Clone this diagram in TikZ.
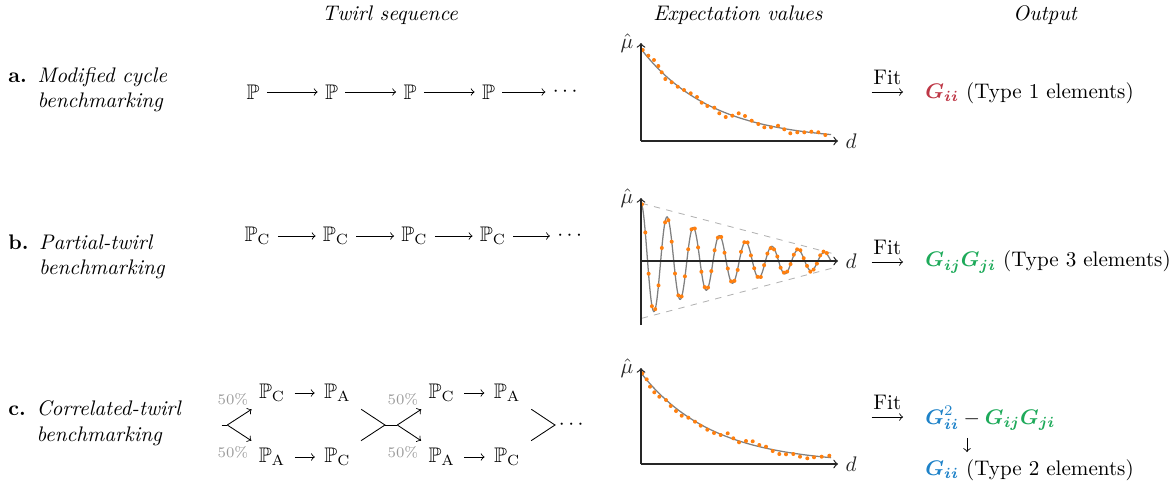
\documentclass[tikz,border=0pt]{standalone}
\usepackage{amsmath}
\usepackage{amssymb}
\usepackage{tikz}
\usetikzlibrary{arrows, positioning}
\definecolor{dotorange}{RGB}{255,127,14}
\definecolor{typeone}{RGB}{190,55,70}
\definecolor{typetwo}{RGB}{30,130,200}
\definecolor{typethree}{RGB}{30,170,90}
\tikzstyle{hdr} = [font=\itshape]
\tikzstyle{rowlbl} = [anchor=west, align=left]
\tikzstyle{line} = [draw, ->]
\tikzstyle{axis} = [draw, ->, semithick, black!85]
\tikzstyle{fitcurve} = [draw, gray, semithick]
\tikzstyle{envelope} = [draw, dashed, black!30]
\tikzstyle{dot} = [fill=dotorange]
\tikzstyle{pct} = [font=\scriptsize, black!40]
\tikzstyle{outtxt} = [anchor=west]

\begin{document}
\begin{tikzpicture}[x=0.474pt, y=0.474pt, node distance=37.2pt]
        \useasboundingbox (0,0) rectangle (1173,487);

        % Encabezados
        \node [hdr] (hTwirl) at (390,472) {Twirl sequence};
        \node [hdr] (hExp) at (738,472) {Expectation values};
        \node [hdr] (hOut) at (1045,472) {Output};

        % Filas
        \node [rowlbl] (lblA) at (1,397) {\begin{tabular}{@{}l@{\hspace{5pt}}l@{}}\textbf{a.} & \textit{Modified cycle}\\ & \textit{benchmarking}\end{tabular}};
        \node [rowlbl] (lblB) at (1,230) {\begin{tabular}{@{}l@{\hspace{5pt}}l@{}}\textbf{b.} & \textit{Partial-twirl}\\ & \textit{benchmarking}\end{tabular}};
        \node [rowlbl] (lblC) at (1,63.5) {\begin{tabular}{@{}l@{\hspace{5pt}}l@{}}\textbf{c.} & \textit{Correlated-twirl}\\ & \textit{benchmarking}\end{tabular}};

        % Secuencia a
        \node (pa1) at (253,395) {$\mathbb{P}$};
        \node [right of=pa1] (pa2) {$\mathbb{P}$};
        \node [right of=pa2] (pa3) {$\mathbb{P}$};
        \node [right of=pa3] (pa4) {$\mathbb{P}$};
        \node [right of=pa4] (pa5) {$\cdots$};
        \path [line] (pa1) -- (pa2);
        \path [line] (pa2) -- (pa3);
        \path [line] (pa3) -- (pa4);
        \path [line] (pa4) -- (pa5);

        % Secuencia b
        \node (pb1) at (257.5,251) {$\mathbb{P}_{\mathrm{C}}$};
        \node [right of=pb1] (pb2) {$\mathbb{P}_{\mathrm{C}}$};
        \node [right of=pb2] (pb3) {$\mathbb{P}_{\mathrm{C}}$};
        \node [right of=pb3] (pb4) {$\mathbb{P}_{\mathrm{C}}$};
        \node [right of=pb4] (pb5) {$\cdots$};
        \path [line] (pb1) -- (pb2);
        \path [line] (pb2) -- (pb3);
        \path [line] (pb3) -- (pb4);
        \path [line] (pb4) -- (pb5);

        % Secuencia c
        \node (cT1) at (272,94) {$\mathbb{P}_{\mathrm{C}}$};
        \node [right of=cT1, node distance=31pt] (cT2) {$\mathbb{P}_{\mathrm{A}}$};
        \node (cB1) at (272,30) {$\mathbb{P}_{\mathrm{A}}$};
        \node [right of=cB1, node distance=31pt] (cB2) {$\mathbb{P}_{\mathrm{C}}$};
        \node (cT3) at (441.7,94) {$\mathbb{P}_{\mathrm{C}}$};
        \node [right of=cT3, node distance=31pt] (cT4) {$\mathbb{P}_{\mathrm{A}}$};
        \node (cB3) at (441.7,30) {$\mathbb{P}_{\mathrm{A}}$};
        \node [right of=cB3, node distance=31pt] (cB4) {$\mathbb{P}_{\mathrm{C}}$};
        \node (cEnd) at (573,62) {$\cdots$};
        \node [pct] (pctT1) at (233,88) {50\%};
        \node [pct] (pctB1) at (233,35) {50\%};
        \node [pct] (pctT2) at (403,88) {50\%};
        \node [pct] (pctB2) at (403,35) {50\%};
        \coordinate (s1) at (221.7,62);
        \coordinate (j1) at (227.3,62);
        \coordinate (m1) at (385,62);
        \coordinate (j2) at (397.3,62);
        \coordinate (m2) at (555,62);
        \draw (s1) -- (j1);
        \path [line] (j1) -- (cT1.south west);
        \path [line] (j1) -- (cB1.north west);
        \path [line, shorten <=1pt, shorten >=1pt] (cT1) -- (cT2);
        \path [line, shorten <=1pt, shorten >=1pt] (cB1) -- (cB2);
        \draw ([xshift=1.5pt]cT2.south east) -- (m1) -- ([xshift=1.5pt]cB2.north east);
        \draw (m1) -- (j2);
        \path [line] (j2) -- (cT3.south west);
        \path [line] (j2) -- (cB3.north west);
        \path [line, shorten <=1pt, shorten >=1pt] (cT3) -- (cT4);
        \path [line, shorten <=1pt, shorten >=1pt] (cB3) -- (cB4);
        \draw ([xshift=1.7pt]cT4.south east) -- (m2) -- ([xshift=1.7pt]cB4.north east);

        % Grafica a
        \begin{scope}[shift={(641,346)}]
            \path [fitcurve] plot[domain=0:190, samples=120] (\x, {92*exp(-0.014*\x)});
            \foreach \t/\h in {1.7/91, 7.3/85.3, 13/81, 17.3/75, 20.7/68.7, 24.3/62, 30.7/58.7, 36.7/54.3, 43/51, 49.7/47.7, 56/44, 60.7/38.3, 66.3/35, 73.3/33.3, 78.3/27.7, 84.7/24, 91.3/25.3, 97.7/27.7, 104/25, 110.7/20.3, 117.3/17, 123.3/13.7, 130/13.7, 137/15.3, 143.3/11.7, 149.3/7.7, 156.3/8.7, 163.3/8.7, 170.3/9.3, 177.3/8.7, 184.3/6}
                \fill [dot] (\t,\h) circle (2);
            \path [axis] (0,0) -- (0,98) node [left] (muA) {$\hat{\mu}$};
            \path [axis] (0,0) -- (197,0) node [right] (dA) {$d$};
        \end{scope}

        % Grafica b
        \begin{scope}[shift={(641,226)}]
            \path [envelope] (0.7,57.7) -- (190.7,7.7);
            \path [envelope] (0.7,-57.3) -- (190.7,-7.3);
            \path [fitcurve] plot[domain=0:190, samples=300] (\x, {58*exp(-0.0105*\x)*cos(13.74*\x)});
            \pgfmathsetseed{11}
            \foreach \t in {1,4.3,...,188} {
                \pgfmathsetmacro\h{58*exp(-0.0105*\t)*cos(13.74*\t)+1.5*rand}
                \fill [dot] (\t,\h) circle (2);
            }
            \path [axis] (0,-64) -- (0,63) node [left] (muB) {$\hat{\mu}$};
            \path [axis] (0,0) -- (197,0) node [right] (dB) {$d$};
        \end{scope}

        % Grafica c
        \begin{scope}[shift={(641,23)}]
            \path [fitcurve] plot[domain=0:190, samples=120] (\x, {91*exp(-0.014*\x)});
            \foreach \t/\h in {1.3/90.7, 5.7/84.7, 9/77.3, 13.3/71.7, 18.3/67.3, 25/64, 29.7/58, 35/53, 40.7/48.3, 47.3/46.3, 54/42.3, 59.7/38.3, 66.3/34.3, 73/31, 79.7/29, 86.7/30.7, 92.3/25.7, 98/21.7, 105/23, 111.7/22.7, 118.3/19, 125/17.3, 131.7/13, 138.3/10, 145/9.7, 152.3/10, 159/7.3, 166.3/5.7, 173/6.7, 180.7/7.3, 188.3/8.3}
                \fill [dot] (\t,\h) circle (2);
            \path [axis] (0,0) -- (0,96) node [left] (muC) {$\hat{\mu}$};
            \path [axis] (0,0) -- (197,0) node [right] (dC) {$d$};
        \end{scope}

        % Salidas
        \coordinate (fA1) at (871.7,395);
        \coordinate (fA2) at (903,395);
        \coordinate (fB1) at (871.7,225);
        \coordinate (fB2) at (903,225);
        \coordinate (fC1) at (871.7,70);
        \coordinate (fC2) at (903,70);
        \path [line] (fA1) -- node [above] (fitA) {Fit} (fA2);
        \path [line] (fB1) -- node [above] (fitB) {Fit} (fB2);
        \path [line] (fC1) -- node [above] (fitC) {Fit} (fC2);
        \node [outtxt] (outA) at (918,394) {\textcolor{typeone}{$\boldsymbol{G_{ii}}$}~(Type 1 elements)};
        \node [outtxt] (outB) at (918,225) {\textcolor{typethree}{$\boldsymbol{G_{ij}G_{ji}}$}~(Type 3 elements)};
        \node [outtxt] (outC1) at (918,69) {$\textcolor{typetwo}{\boldsymbol{G}^{2}_{\boldsymbol{ii}}} - \textcolor{typethree}{\boldsymbol{G_{ij}G_{ji}}}$};
        \node [outtxt] (outC2) at (918,17) {\textcolor{typetwo}{$\boldsymbol{G_{ii}}$}~(Type 2 elements)};
        \coordinate (mC) at (967,40);
        \path [line] (mC |- outC1.south) -- (mC |- outC2.north);
    \end{tikzpicture}
\end{document}
